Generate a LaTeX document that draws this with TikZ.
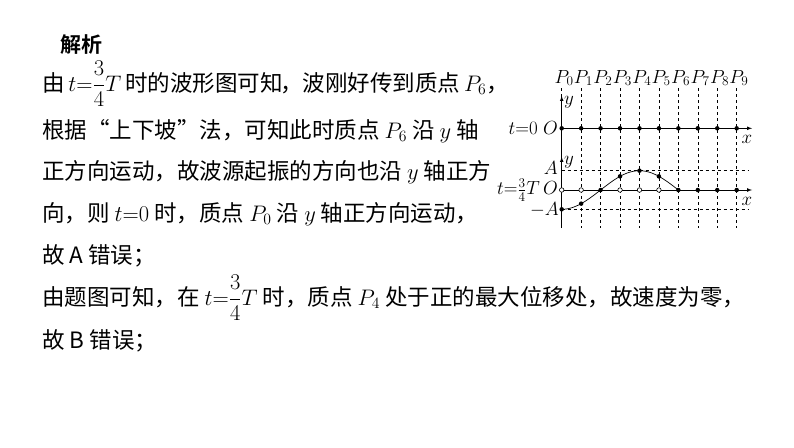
\RequirePackage{fix-cm}
\documentclass[tikz,border=0pt]{standalone}
\usepackage{amsmath}
\usepackage{fontspec}
\setmainfont{Liberation Serif}
\newfontfamily\cjk{Noto Sans CJK SC}
\newfontfamily\cjkb{Noto Sans CJK SC Bold}
\begin{document}
\begin{tikzpicture}[x=1pt,y=-1pt,
 txt/.style={anchor=west,inner sep=0,font=\fontsize{22.5}{23}\selectfont},
 lab/.style={inner sep=0,font=\fontsize{19}{19}\selectfont},
 dot/.style={circle,fill=black,inner sep=0,minimum size=4.5pt},
 hol/.style={circle,draw=black,fill=white,inner sep=0,minimum size=4.5pt,line width=0.6pt}]
\useasboundingbox[fill=white] (0,0) rectangle (794,447);
\node[txt,font=\fontsize{21}{21}\selectfont\cjkb] (h) at (60,45) {解析};
\node[txt] (l1) at (42,84) {\cjk 由\,$t{=}\dfrac{3}{4}T$\,时的波形图可知\hspace{-0.1em}，波刚好传到质点\,$P_6$，};
\node[txt] (l2) at (42,131) {\cjk 根据“上下坡”法，可知此时质点 $P_6$ 沿 $y$ 轴};
\node[txt] (l3) at (42,172) {\cjk 正方向运动，故波源起振的方向也沿 $y$ 轴正方};
\node[txt] (l4) at (42,214) {\cjk 向，则 $t{=}0$ 时，质点 $P_0$ 沿 $y$ 轴正方向运动，};
\node[txt] (l5) at (42,256) {\cjk 故 A 错误；};
\node[txt] (l6) at (42,298) {\cjk 由题图可知，在 $t{=}\dfrac{3}{4}T$ 时，质点 $P_4$ 处于正的最大位移处，故速度为零，};
\node[txt] (l7) at (42,341) {\cjk 故 B 错误；};
% diagram
\def\dx{19.44}
\foreach \i in {0,...,9}{
  \coordinate (t\i) at (561.7+\i*\dx,128.3);
  \coordinate (b\i) at (561.7+\i*\dx,190);
  \draw[dashed,line width=0.5pt] (561.7+\i*\dx,88) -- (561.7+\i*\dx,228);
  \node[lab] (p\i) at (564+\i*\dx,78) {$P_{\i}$};
}
\draw[line width=0.7pt] (561.7,228) -- (561.7,95);
\draw[-latex,line width=0.7pt] (561.7,135) -- (561.7,96);
\draw[-latex,line width=0.7pt] (561.7,200) -- (561.7,157);
\node[lab] (y1) at (569,102) {$y$};
\node[lab] (y2) at (569,162) {$y$};
\draw[dashed,line width=0.5pt] (561.7,170.7) -- (748,170.7);
\draw[dashed,line width=0.5pt] (561.7,209.3) -- (748,209.3);
\coordinate (xe1) at (752,128.3);
\coordinate (xe2) at (752,190);
\draw[-latex,line width=0.7pt] (t0) -- (xe1);
\draw[-latex,line width=0.7pt] (b0) -- (xe2);
\node[lab] (x1) at (747,139) {$x$};
\node[lab] (x2) at (747,201) {$x$};
\node[lab,anchor=east] (t0l) at (558,128.3) {$t{=}0\;O$};
\node[lab,anchor=east] (t1l) at (558,190) {$t{=}\frac{3}{4}T\,O$};
\node[lab,anchor=east] (Al) at (558,168) {$A$};
\node[lab,anchor=east] (mAl) at (559,210) {$-A$};
\draw[line width=0.7pt,domain=0:6,samples=50] plot ({561.7+\x*\dx},{190+19.3*cos(45*\x)});
\foreach \i in {0,...,9} \node[dot] at (t\i) {};
\foreach \i in {0,1,3,4,5} \node[hol] at (b\i) {};
\foreach \i in {2,6,7,8,9} \node[dot] at (b\i) {};
\foreach \i in {0,1,3,4,5} \node[dot] at ({561.7+\i*\dx},{190+19.3*cos(45*\i)}) {};
\end{tikzpicture}
\end{document}
